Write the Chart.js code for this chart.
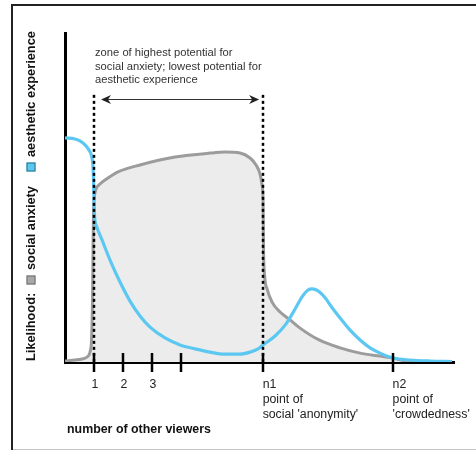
<!DOCTYPE html>
<html><head><meta charset="utf-8">
<script src="https://cdn.jsdelivr.net/npm/chart.js@4/dist/chart.umd.min.js"></script>
<style>html,body{margin:0;padding:0;background:#fff;overflow:hidden}canvas{display:block}</style>
</head><body>
<canvas id="c" width="476" height="453"></canvas>
<script>
// ---- data (x in "number of viewers" units, y = likelihood 0..100) ----
const anxietyX = [0, 0.345, 0.586, 0.759, 0.862, 0.914, 0.948, 0.966, 0.983, 1.017, 1.069, 1.207, 1.379, 1.828, 2.586, 3.793, 5.0, 5.517, 6.034, 6.379, 6.586, 6.724, 6.793, 6.828, 6.845, 6.879, 6.966, 7.138, 7.414, 7.759, 8.103, 8.759, 9.483, 10.172, 10.862, 11.31, 11.724, 12.07];
const anxietyY = [0.3, 0.6, 0.9, 1.5, 3.0, 6.7, 18.8, 34.0, 46.2, 50.5, 52.6, 54.1, 55.3, 57.8, 59.9, 62.3, 63.5, 63.8, 63.5, 62.0, 59.9, 57.1, 53.8, 49.2, 34.0, 26.4, 22.2, 18.2, 15.2, 12.8, 10.3, 6.7, 4.3, 2.7, 1.8, 1.2, 0.3, 0];
const aestheticX = [0, 0.345, 0.517, 0.690, 0.828, 0.914, 0.966, 0.993, 1.017, 1.086, 1.276, 1.552, 1.897, 2.241, 2.586, 2.931, 3.448, 3.966, 4.483, 5.0, 5.517, 6.034, 6.379, 6.655, 6.828, 7.241, 7.621, 7.931, 8.172, 8.379, 8.517, 8.724, 8.966, 9.241, 9.483, 9.828, 10.172, 10.517, 10.862, 11.31, 11.897, 12.586, 13.345];
const aestheticY = [68.1, 67.8, 67.2, 66.0, 64.4, 62.6, 59.0, 52.3, 44.7, 41.3, 37.1, 31.0, 24.3, 18.5, 14.0, 10.6, 7.3, 5.2, 4.0, 3.0, 2.4, 2.4, 3.0, 4.0, 5.2, 7.9, 11.6, 16.1, 19.8, 21.9, 22.2, 21.6, 19.5, 16.1, 13.4, 9.7, 6.7, 4.3, 2.7, 1.2, 0.6, 0.3, 0.15];
const tickValues = [1, 2, 3, 4, 6.83, 11.31];
const tickLabels = [['1'], ['2'], ['3'], [''], ['n1', 'point of', "social 'anonymity'"], ['n2', 'point of', "'crowdedness'"]];
const tickAlign = ['center', 'center', 'center', 'center', 'left', 'left'];
const zoneBounds = [1, 6.83];
const zoneText = ['zone of highest potential for', 'social anxiety; lowest potential for', 'aesthetic experience'];
const xTitle = 'number of other viewers';
const yTitleParts = [
  {text: 'Likelihood:', at: 0},
  {swatch: '#a8a8a8', border: '#6e6e6e', at: 81},
  {text: 'social anxiety', at: 91},
  {swatch: '#5cc8f2', border: '#2a6f8a', at: 194},
  {text: 'aesthetic experience', at: 204}
];
const X_MAX = 13.41, Y_MAX = 100;
const ARROW_Y = 80, DOTTED_TOP = 81.2;

const FONT = '"Liberation Sans", Arial, Helvetica, sans-serif';

const annot = {
  id: 'annot',
  beforeDraw(chart) {
    const ctx = chart.ctx;
    ctx.save();
    ctx.fillStyle = '#fff';
    ctx.fillRect(0, 0, chart.width, chart.height);
    ctx.strokeStyle = '#c4c4c4'; ctx.lineWidth = 1;
    ctx.beginPath(); ctx.moveTo(12, 449.5); ctx.lineTo(476, 449.5); ctx.stroke();
    ctx.strokeStyle = '#222'; ctx.lineWidth = 2;
    ctx.beginPath(); ctx.moveTo(476, 5); ctx.lineTo(12, 5); ctx.lineTo(12, 450); ctx.stroke();
    ctx.restore();
  },
  afterDatasetsDraw(chart) {
    const {ctx, scales: {x, y}} = chart;
    ctx.save();
    // dotted zone boundaries
    ctx.strokeStyle = '#000'; ctx.lineWidth = 2.5; ctx.setLineDash([3, 3]);
    zoneBounds.forEach(v => {
      const px = Math.round(x.getPixelForValue(v));
      ctx.beginPath(); ctx.moveTo(px, y.getPixelForValue(DOTTED_TOP)); ctx.lineTo(px, y.getPixelForValue(0)); ctx.stroke();
    });
    ctx.setLineDash([]);
    // double arrow
    const ay = Math.round(y.getPixelForValue(ARROW_Y)) + 0.5;
    const ax1 = x.getPixelForValue(zoneBounds[0]) + 7, ax2 = x.getPixelForValue(zoneBounds[1]) - 4;
    ctx.strokeStyle = '#333'; ctx.fillStyle = '#222'; ctx.lineWidth = 1.2;
    ctx.beginPath(); ctx.moveTo(ax1 + 4, ay); ctx.lineTo(ax2 - 4, ay); ctx.stroke();
    const head = (tx, dir) => {
      ctx.beginPath();
      ctx.moveTo(tx, ay);
      ctx.lineTo(tx + dir * 10, ay - 4.5);
      ctx.lineTo(tx + dir * 7, ay);
      ctx.lineTo(tx + dir * 10, ay + 4.5);
      ctx.closePath(); ctx.fill();
    };
    head(ax1, 1); head(ax2, -1);
    // zone text
    ctx.fillStyle = '#333'; ctx.font = '11.2px ' + FONT; ctx.textBaseline = 'middle'; ctx.textAlign = 'left';
    zoneText.forEach((t, i) => ctx.fillText(t, x.getPixelForValue(zoneBounds[0]) + 1, y.getPixelForValue(93.9 - i * 4.1)));
    ctx.restore();
  },
  afterDraw(chart) {
    const {ctx, scales: {x, y}, chartArea} = chart;
    ctx.save();
    // tick marks crossing the axis
    ctx.strokeStyle = '#000'; ctx.lineWidth = 2.5;
    const by = chartArea.bottom;
    tickValues.forEach(v => {
      const px = Math.round(x.getPixelForValue(v));
      ctx.beginPath(); ctx.moveTo(px, by - 9); ctx.lineTo(px, by + 10); ctx.stroke();
    });
    // tick labels
    ctx.fillStyle = '#222'; ctx.font = '12.3px ' + FONT; ctx.textBaseline = 'middle';
    tickValues.forEach((v, i) => {
      const px = x.getPixelForValue(v);
      ctx.textAlign = tickAlign[i];
      tickLabels[i].forEach((l, j) => ctx.fillText(l, tickAlign[i] === 'left' ? px - 0.5 : px + 1, by + 23 + j * 15));
    });
    // x title
    ctx.font = 'bold 12.4px ' + FONT; ctx.textAlign = 'left'; ctx.fillStyle = '#111';
    ctx.fillText(xTitle, chartArea.left + 2, by + 68);
    // y title (rotated)
    ctx.font = 'bold 12.8px ' + FONT;
    ctx.translate(31, by - 1);
    ctx.rotate(-Math.PI / 2);
    yTitleParts.forEach(p => {
      if (p.text) {
        ctx.fillStyle = '#111'; ctx.textAlign = 'left'; ctx.textBaseline = 'middle';
        ctx.fillText(p.text, p.at, 0);
      } else {
        ctx.fillStyle = p.swatch; ctx.fillRect(p.at - 4.5, -4.5, 9, 9);
        ctx.strokeStyle = p.border; ctx.lineWidth = 1; ctx.strokeRect(p.at - 4, -4, 8, 8);
      }
    });
    ctx.restore();
  }
};

new Chart(document.getElementById('c'), {
  type: 'line',
  data: {
    datasets: [
      {
        label: 'aesthetic experience',
        data: aestheticX.map((v, i) => ({x: v, y: aestheticY[i]})),
        borderColor: '#5cc8f2', borderWidth: 3.2, pointRadius: 0, fill: false,
        cubicInterpolationMode: 'monotone'
      },
      {
        label: 'social anxiety',
        data: anxietyX.map((v, i) => ({x: v, y: anxietyY[i]})),
        borderColor: '#9c9c9c', backgroundColor: '#ececec', borderWidth: 3, pointRadius: 0,
        fill: 'origin', cubicInterpolationMode: 'monotone'
      }
    ]
  },
  options: {
    responsive: false, animation: false, devicePixelRatio: 1,
    layout: {padding: {left: 0, top: 33, right: 22, bottom: 0}},
    plugins: {legend: {display: false}, tooltip: {enabled: false}},
    scales: {
      x: {
        type: 'linear', min: 0, max: X_MAX,
        grid: {display: false}, border: {display: true, color: '#000', width: 3},
        ticks: {display: false},
        afterFit(s) { s.height = 91; }
      },
      y: {
        type: 'linear', min: 0, max: Y_MAX,
        grid: {display: false}, border: {display: true, color: '#000', width: 3},
        ticks: {display: false},
        afterFit(s) { s.width = 65; }
      }
    }
  },
  plugins: [annot]
});
</script>
</body></html>
